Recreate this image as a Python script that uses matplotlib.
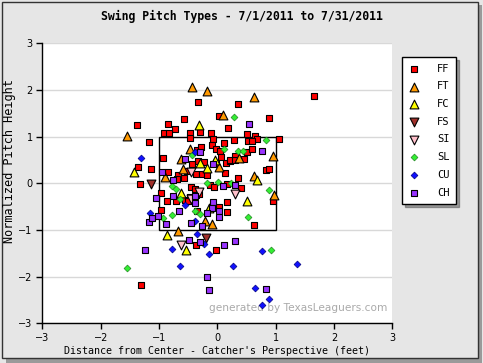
import matplotlib
matplotlib.use("Agg")
import matplotlib.pyplot as plt
from matplotlib.patches import Rectangle

# ---- data (feet from center, normalized height) ----
ff_x = [-0.34,-1.37,-0.85,-0.58,-0.73,-0.92,-0.83,-0.47,-0.47,-0.30,-0.11,-1.17,-0.08,0.11,0.03,0.19,
        -1.36,-1.14,-1.33,-0.94,-0.85,-0.68,-0.70,-0.58,-0.52,-0.35,-0.28,-0.34,-0.44,-0.23,-0.37,-0.27,
        -0.18,-0.10,-0.03,0.05,0.07,0.14,0.13,0.21,-0.46,-0.39,-0.12,-0.06,0.17,0.40,1.65,0.35,0.88,0.50,
        0.64,0.68,0.52,0.59,0.28,1.06,0.30,0.22,0.30,0.45,0.51,0.60,0.36,0.84,0.89,0.95,0.02,0.16,0.16,
        0.62,-0.03,-0.97,-0.97,-0.87,-0.71,-0.47,-0.55,-0.37,-0.51,-0.35,-0.37,-1.31,-0.32,-0.02]
ff_y = [1.74,1.24,1.28,1.37,1.16,1.07,1.07,1.07,0.98,1.10,1.08,0.88,0.94,0.86,1.44,1.18,
        0.34,0.30,-0.02,0.54,0.24,0.17,0.10,0.11,0.26,0.71,0.78,0.48,0.41,0.45,0.19,0.19,
        0.17,0.81,0.74,0.69,0.57,0.43,0.21,0.48,-0.09,-0.12,-0.04,-0.09,-0.02,-0.11,1.88,1.71,1.41,1.05,
        1.01,0.94,0.91,0.90,0.93,0.94,0.58,0.49,0.49,0.51,0.66,0.73,0.11,0.28,0.30,-0.38,-0.51,-0.41,-0.62,
        -0.90,-1.43,-0.20,-0.58,-0.39,-0.39,-0.30,-0.36,-0.26,-0.39,-0.60,-1.33,-2.18,-0.24,0.43]

ft_x = [-0.44,-0.17,-1.55,0.10,0.62,-0.90,-0.59,-0.62,-0.47,0.03,0.37,0.95,0.63,0.97,-0.21,-0.10,-0.67]
ft_y = [2.07,1.98,1.01,1.46,1.86,0.14,0.30,0.53,0.73,0.34,0.55,0.58,0.16,-0.26,-0.80,-0.88,-1.02]

fc_x = [-0.31,-1.43,-0.30,-0.18,-0.04,0.68,0.50,-0.63,-0.87,-0.54,-0.14]
fc_y = [1.24,0.24,0.43,0.33,0.50,0.06,-0.37,-0.21,-1.11,-1.43,-0.54]

fs_x = [-1.13,-0.19]
fs_y = [-0.02,-1.18]

si_x = [-0.45,0.31,-0.46,-0.32,-0.63]
si_y = [0.24,-0.23,-0.34,-0.19,-1.32]

sl_x = [-0.44,0.11,0.28,0.83,0.36,0.44,-0.78,-0.71,-0.18,0.01,0.24,0.89,0.52,0.91,-0.93,-0.64,-0.78,-0.39,-0.29,-1.55]
sl_y = [0.60,0.74,1.43,0.93,0.69,0.69,-0.06,-0.13,0.00,0.02,0.00,-0.15,-0.73,-1.43,-0.75,-0.34,-0.69,-0.60,-0.66,-1.82]

cu_x = [-1.31,-0.39,-0.55,-1.16,-0.39,-0.35,-0.23,-0.15,-0.78,-0.64,0.77,0.26,1.37,0.65,0.88,0.77]
cu_y = [0.54,0.66,-0.47,-0.64,-0.81,-1.09,-1.31,-1.52,-1.41,-1.78,-1.46,-1.78,-1.73,-2.24,-2.48,-2.61]

ch_x = [-0.95,-0.56,-0.29,-0.08,0.55,0.76,0.09,0.30,-0.08,0.02,-0.09,-0.18,0.02,-0.26,0.12,0.30,-0.17,
        -0.15,0.83,-1.05,-1.17,-1.12,-1.02,-0.88,-0.76,-0.76,-0.66,-0.39,-0.46,-0.49,-0.30,-1.24,-0.39]
ch_y = [0.24,0.51,0.66,0.41,1.28,0.69,-0.06,-0.04,-0.41,-0.59,-0.54,-0.64,-0.73,-0.91,-1.33,-1.24,-2.01,
        -2.28,-2.26,-0.32,-0.84,-0.75,-0.71,-0.88,0.06,-0.27,-0.60,-0.43,-0.86,-1.22,-1.26,-1.43,-0.28]

ticks = [-3, -2, -1, 0, 1, 2, 3]

# ---- figure ----
fig = plt.figure(figsize=(4.83, 3.63), dpi=100)
fig.patch.set_facecolor("#e6e6e6")
# outer frame with shadow
fig.patches.append(Rectangle((0.012, 0.0), 0.985, 0.985, transform=fig.transFigure,
                             facecolor="#9a9a9a", edgecolor="none", zorder=-3))
fig.patches.append(Rectangle((0.004, 0.013), 0.985, 0.982, transform=fig.transFigure,
                             facecolor="#e6e6e6", edgecolor="#333333", linewidth=1.0, zorder=-2))

ax = fig.add_axes([0.0876, 0.1094, 0.7250, 0.7713])
ax.set_facecolor("white")
ax.set_xlim(-3, 3)
ax.set_ylim(-3, 3)
for s in ["top", "right"]:
    ax.spines[s].set_visible(False)
for s in ["left", "bottom"]:
    ax.spines[s].set_color("black")
    ax.spines[s].set_linewidth(1.0)
ax.set_xticks(ticks)
ax.set_yticks(ticks)
ax.tick_params(direction="out", length=4, width=1, labelsize=7, colors="black", pad=3)
ax.yaxis.grid(True, color="#d8d8d8", linewidth=1)
ax.set_axisbelow(True)

# strike zone
ax.add_patch(Rectangle((-1, -1), 2, 2, fill=False, edgecolor="black", linewidth=1.0, zorder=2))

ms = 24
ax.scatter(ff_x, ff_y, marker="s", s=ms, c="#ff0000", edgecolors="black", linewidths=0.8, label="FF", zorder=3)
ax.scatter(ft_x, ft_y, marker="^", s=40, c="#ff9900", edgecolors="black", linewidths=0.8, label="FT", zorder=3)
ax.scatter(fc_x, fc_y, marker="^", s=40, c="#ffff00", edgecolors="black", linewidths=0.8, label="FC", zorder=3)
ax.scatter(fs_x, fs_y, marker="v", s=40, c="#a0302a", edgecolors="black", linewidths=0.8, label="FS", zorder=3)
ax.scatter(si_x, si_y, marker="v", s=40, c="#ffc0cb", edgecolors="black", linewidths=0.8, label="SI", zorder=3)
ax.scatter(sl_x, sl_y, marker="D", s=12, c="#33ee33", edgecolors="#228822", linewidths=0.5, label="SL", zorder=3)
ax.scatter(cu_x, cu_y, marker="D", s=12, c="#1010ff", edgecolors="#000080", linewidths=0.5, label="CU", zorder=3)
ax.scatter(ch_x, ch_y, marker="s", s=ms, c="#9933ff", edgecolors="black", linewidths=0.8, label="CH", zorder=3)

mono = "DejaVu Sans Mono"
ax.set_xlabel("Distance from Center - Catcher's Perspective (feet)", family=mono, fontsize=7.2, labelpad=2)
ax.set_ylabel("Normalized Pitch Height", family=mono, fontsize=8.6)
ax.yaxis.set_label_coords(-0.074, 0.58)
fig.text(0.5, 0.955, "Swing Pitch Types - 7/1/2011 to 7/31/2011", family=mono, fontweight="bold",
         fontsize=8.3, ha="center", va="center")

ax.text(0.985, 0.035, "generated by TexasLeaguers.com", transform=ax.transAxes, ha="right", va="bottom",
        fontsize=7.6, color="#aaaaaa", zorder=1)

leg = fig.legend(loc="upper left", bbox_to_anchor=(0.832, 0.842), bbox_transform=fig.transFigure,
                 prop={"family": mono, "size": 7.5}, frameon=True, fancybox=False, shadow=True,
                 labelspacing=0.74, handletextpad=1.6, borderpad=0.6, handlelength=1.2,
                 borderaxespad=0)
leg.get_frame().set_edgecolor("black")
leg.get_frame().set_linewidth(1.0)

fig.savefig("out.png", dpi=100, facecolor=fig.get_facecolor())
